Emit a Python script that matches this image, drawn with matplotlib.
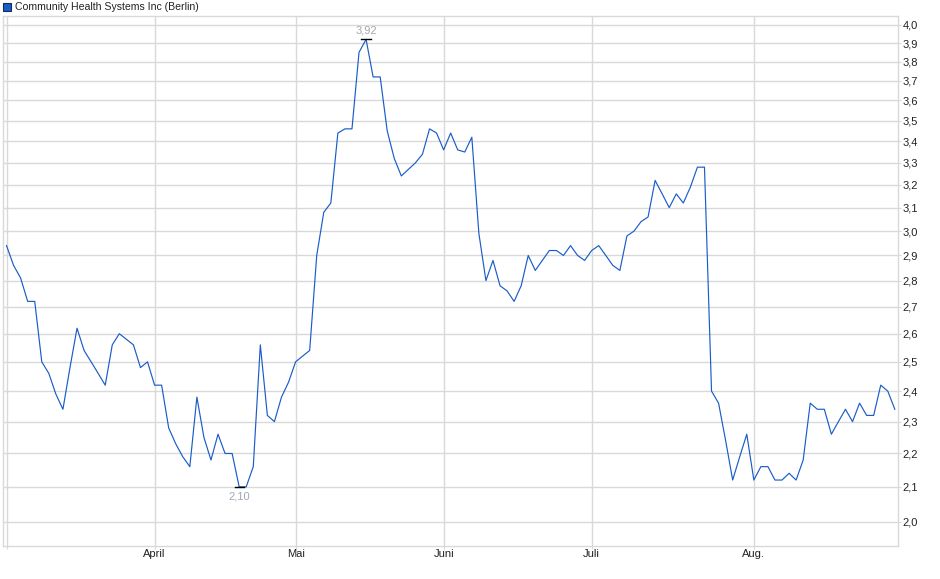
import numpy as np
import matplotlib
matplotlib.use('Agg')
from matplotlib import pyplot as plt
from matplotlib.patches import Rectangle

# Schlusskurse (Börse Berlin), je Handelstag, 03.03. - 29.08.
prices = [2.94, 2.86, 2.81, 2.72, 2.72, 2.50, 2.46, 2.39, 2.34, 2.48,
          2.62, 2.54, 2.50, 2.46, 2.42, 2.56, 2.60, 2.58, 2.56, 2.48,
          2.50, 2.42, 2.42, 2.28, 2.23, 2.19, 2.16, 2.38, 2.25, 2.18,
          2.26, 2.20, 2.20, 2.10, 2.10, 2.16, 2.56, 2.32, 2.30, 2.38,
          2.43, 2.50, 2.52, 2.54, 2.90, 3.08, 3.12, 3.44, 3.46, 3.46,
          3.85, 3.92, 3.72, 3.72, 3.45, 3.32, 3.24, 3.27, 3.30, 3.34,
          3.46, 3.44, 3.36, 3.44, 3.36, 3.35, 3.42, 2.99, 2.80, 2.88,
          2.78, 2.76, 2.72, 2.78, 2.90, 2.84, 2.88, 2.92, 2.92, 2.90,
          2.94, 2.90, 2.88, 2.92, 2.94, 2.90, 2.86, 2.84, 2.98, 3.00,
          3.04, 3.06, 3.22, 3.16, 3.10, 3.16, 3.12, 3.19, 3.28, 3.28,
          2.40, 2.36, 2.24, 2.12, 2.19, 2.26, 2.12, 2.16, 2.16, 2.12,
          2.12, 2.14, 2.12, 2.18, 2.36, 2.34, 2.34, 2.26, 2.30, 2.34,
          2.30, 2.36, 2.32, 2.32, 2.42, 2.40, 2.34]

# erster Handelstag je Monat (Index in prices)
month_pos = [0, 21, 41, 62, 83, 106]
month_labels = ['', 'April', 'Mai', 'Juni', 'Juli', 'Aug.']

y_ticks = [round(2.0 + 0.1 * k, 1) for k in range(21)]
title = 'Community Health Systems Inc (Berlin)'

LINE = '#1a5cc8'
GRID = '#d9d9d9'

plt.rcParams['font.family'] = ['Liberation Sans', 'DejaVu Sans']

fig = plt.figure(figsize=(9.4, 5.79), dpi=100)
ax = fig.add_axes([3 / 940, 1 - 545.5 / 579, 895 / 940, 529.5 / 579])

x = np.arange(len(prices))
ax.plot(x, prices, color=LINE, lw=0.85, zorder=3)

ax.set_yscale('log')
ax.set_xlim(-0.5, 126.45)
ax.set_ylim(1.935, 4.05)

ax.yaxis.set_major_locator(matplotlib.ticker.FixedLocator(y_ticks))
ax.yaxis.set_minor_locator(matplotlib.ticker.NullLocator())
ax.set_yticklabels([f'{v:.1f}'.replace('.', ',') for v in y_ticks])
ax.yaxis.tick_right()

ax.set_xticks(month_pos)
ax.set_xticklabels(month_labels)

ax.grid(True, color=GRID, lw=1.0, zorder=0)
for s in ax.spines.values():
    s.set_color(GRID)
    s.set_linewidth(1.0)

ax.tick_params(axis='y', which='major', length=2, color=GRID, pad=1.5,
               labelsize=8, labelcolor='#222222')
ax.tick_params(axis='x', which='major', length=2, color=GRID, pad=0.5,
               labelsize=8, labelcolor='#222222')

# Hoch / Tief markieren
i_hi = int(np.argmax(prices))
i_lo = int(np.argmin(prices))
ax.plot([i_hi - 0.65, i_hi + 0.65], [prices[i_hi]] * 2, color='black', lw=1.0, zorder=4)
ax.plot([i_lo - 0.65, i_lo + 0.65], [prices[i_lo]] * 2, color='black', lw=1.0, zorder=4)
ax.annotate(f'{prices[i_hi]:.2f}'.replace('.', ','), (i_hi, prices[i_hi]),
            xytext=(0, 3), textcoords='offset points', ha='center', va='bottom',
            fontsize=8, color='#a8a8a8')
ax.annotate(f'{prices[i_lo]:.2f}'.replace('.', ','), (i_lo, prices[i_lo]),
            xytext=(0, -3), textcoords='offset points', ha='center', va='top',
            fontsize=8, color='#a0a8b8')

# Legende oben links
fig.patches.append(Rectangle((3 / 940, 1 - 11 / 579), 8 / 940, 8 / 579,
                             transform=fig.transFigure, facecolor='#1a5cc8',
                             edgecolor='#1a2a50', lw=0.8))
fig.text(15 / 940, 1 - 7 / 579, title, fontsize=7.6, va='center', ha='left',
         color='#222222')

fig.savefig('out.png', dpi=100, facecolor='white')
